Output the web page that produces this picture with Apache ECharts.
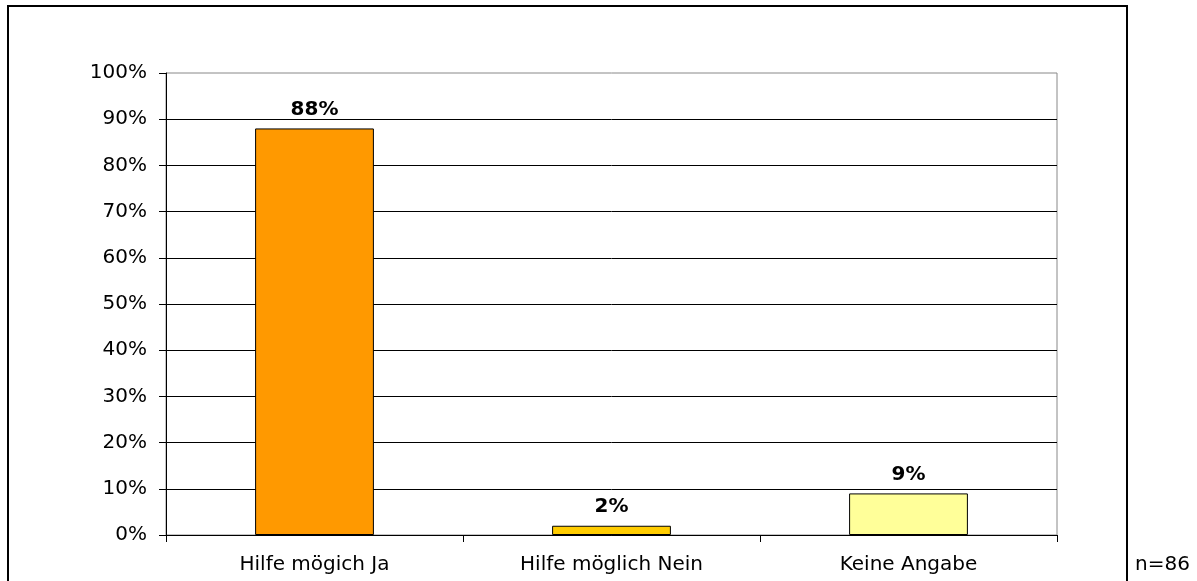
<!DOCTYPE html>
<html>
<head>
<meta charset="utf-8">
<script src="https://cdn.jsdelivr.net/npm/echarts@6/dist/echarts.min.js"></script>
<style>
  html, body { margin: 0; padding: 0; background: #fff; }
  #chart { width: 1197px; height: 581px; }
</style>
</head>
<body>
<div id="chart"></div>
<script>
// Answers to "Hilfe möglich?" (n=86), share in percent
const categories = ['Hilfe mögich Ja', 'Hilfe möglich Nein', 'Keine Angabe'];
const shares = [88, 2, 9];
const barColors = ['#FF9900', '#FFCC00', '#FFFF99'];
const sampleNote = 'n=86';

const FONT = 'DejaVu Sans, Verdana, sans-serif';
const FONT_SIZE = 20;

const chart = echarts.init(document.getElementById('chart'), null, { renderer: 'canvas' });

chart.setOption({
  animation: false,
  backgroundColor: '#ffffff',
  grid: {
    left: 166, right: 140, top: 73, bottom: 46,
    show: true, borderColor: '#888888', borderWidth: 1
  },
  xAxis: {
    type: 'category',
    data: categories,
    axisLine: { lineStyle: { color: '#000', width: 1 } },
    axisTick: { show: true, length: 7, lineStyle: { color: '#000' } },
    axisLabel: { color: '#000', fontFamily: FONT, fontSize: FONT_SIZE, margin: 20 }
  },
  yAxis: {
    type: 'value',
    min: 0, max: 100, interval: 10,
    axisLine: { show: true, lineStyle: { color: '#000', width: 1 } },
    axisTick: { show: true, length: 7, lineStyle: { color: '#000' } },
    axisLabel: { color: '#000', fontFamily: FONT, fontSize: FONT_SIZE, margin: 19, formatter: '{value}%' },
    splitLine: { show: true, showMaxLine: false, lineStyle: { color: '#000', width: 1 } }
  },
  series: [{
    type: 'bar',
    barCategoryGap: '60%',
    data: shares.map((v, i) => ({
      value: v,
      itemStyle: { color: barColors[i], borderColor: '#000', borderWidth: 1 }
    })),
    label: {
      show: true,
      position: 'top',
      distance: 9,
      color: '#000',
      fontFamily: FONT,
      fontSize: FONT_SIZE,
      fontWeight: 'bold',
      formatter: p => p.value + '%'
    }
  }],
  graphic: [
    {
      type: 'rect',
      shape: { x: 8, y: 6, width: 1119, height: 600 },
      style: { fill: 'none', stroke: '#000', lineWidth: 2 },
      silent: true
    },
    {
      type: 'text',
      left: 1135, top: 555,
      style: { text: sampleNote, fill: '#000', font: FONT_SIZE + 'px ' + FONT }
    }
  ]
});
</script>
</body>
</html>
